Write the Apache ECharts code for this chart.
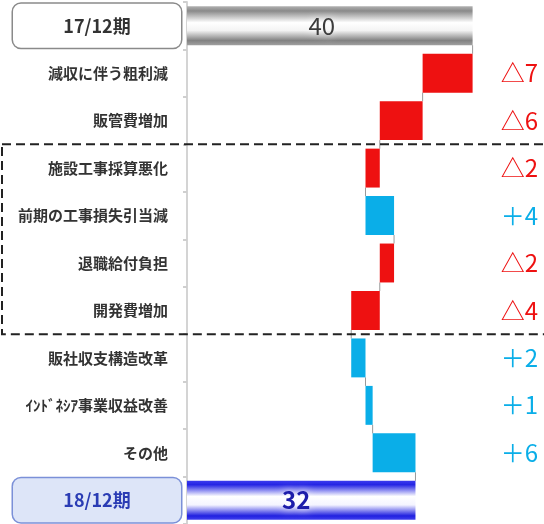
<!DOCTYPE html>
<html>
<head>
<meta charset="utf-8">
<script src="https://cdn.jsdelivr.net/npm/echarts@6/dist/echarts.min.js"></script>
<style>
  html, body { margin: 0; padding: 0; background: #fff; }
  #main { width: 544px; height: 524px; }
</style>
</head>
<body>
<div id="main"></div>
<script>
// 営業利益の増減要因（17/12期 → 18/12期）
const categories = [
  '17/12期',
  '減収に伴う粗利減',
  '販管費増加',
  '施設工事採算悪化',
  '前期の工事損失引当減',
  '退職給付負担',
  '開発費増加',
  '販社収支構造改革',
  'ｲﾝﾄﾞﾈｼｱ事業収益改善',
  'その他',
  '18/12期'
];
const openingTotal = 40;
const changes = [-7, -6, -2, 4, -2, -4, 2, 1, 6];
const closingTotal = 32;
// rows grouped inside the dashed frame
const framedFrom = 3, framedTo = 6;

const FONT = '"Noto Sans CJK JP", "Noto Sans", sans-serif';
const RED = '#ee1111';
const BLUE = '#0aaee8';
const BAR_RATIO = 0.82;

// waterfall geometry built from the values
const bases = [0];
const lengths = [openingTotal];
const levels = [openingTotal]; // running total after each row
let running = openingTotal;
changes.forEach(d => {
  const next = running + d;
  bases.push(Math.min(running, next));
  lengths.push(Math.abs(d));
  running = next;
  levels.push(running);
});
bases.push(0);
lengths.push(closingTotal);
levels.push(closingTotal);
const last = categories.length - 1;

const grayTube = {
  type: 'linear', x: 0, y: 0, x2: 0, y2: 1,
  colorStops: [
    { offset: 0, color: '#b0b0b0' },
    { offset: 0.12, color: '#8a8a8a' },
    { offset: 0.42, color: '#ffffff' },
    { offset: 0.62, color: '#f4f4f4' },
    { offset: 0.88, color: '#828282' },
    { offset: 1, color: '#a0a0a0' }
  ]
};
const blueTube = {
  type: 'linear', x: 0, y: 0, x2: 0, y2: 1,
  colorStops: [
    { offset: 0, color: '#3a3aee' },
    { offset: 0.1, color: '#2424e4' },
    { offset: 0.4, color: '#ffffff' },
    { offset: 0.62, color: '#f4f4ff' },
    { offset: 0.9, color: '#2020e0' },
    { offset: 1, color: '#4040ee' }
  ]
};

const bodyData = lengths.map((len, i) => {
  if (i === 0) {
    return {
      value: len,
      itemStyle: { color: grayTube },
      label: {
        show: true, position: 'inside', offset: [-8, 0],
        formatter: String(openingTotal),
        fontFamily: FONT, fontSize: 24, color: '#3c3c3c',
        textShadowColor: '#ffffff', textShadowBlur: 8
      }
    };
  }
  if (i === last) {
    return {
      value: len,
      itemStyle: { color: blueTube },
      label: {
        show: true, position: 'inside', offset: [-5, 0],
        formatter: String(closingTotal),
        fontFamily: FONT, fontSize: 24, fontWeight: 'bold', color: '#1c1caa',
        textShadowColor: '#ffffff', textShadowBlur: 8
      }
    };
  }
  return { value: len, itemStyle: { color: changes[i - 1] < 0 ? RED : BLUE } };
});

function changeText(i) {
  if (i === 0 || i === last) return '';
  const d = changes[i - 1];
  return d < 0 ? '{neg|△' + Math.abs(d) + '}' : '{pos|＋' + d + '}';
}

const connectorData = [];
for (let i = 0; i < last; i++) connectorData.push([levels[i], i]);

const chart = echarts.init(document.getElementById('main'), null, { renderer: 'canvas' });
chart.setOption({
  animation: false,
  grid: { left: 187, right: 0, top: 2, height: 522.5 },
  xAxis: {
    type: 'value', min: 0, max: 50,
    show: false
  },
  yAxis: [
    {
      type: 'category', data: categories, inverse: true,
      axisLine: { show: true, lineStyle: { color: '#d4d4d4', width: 2 } },
      axisTick: { show: true, length: 4, lineStyle: { color: '#cfcfcf', width: 2 } },
      axisLabel: {
        margin: 6,
        formatter: (v, i) => {
          if (i === 0) return '{first|' + v + '}';
          if (i === last) return '{final|' + v + '}';
          return '{item|' + v + '}';
        },
        rich: {
          item: {
            fontFamily: FONT, fontSize: 15, fontWeight: 'bold', color: '#333',
            padding: [0, 13, 0, 0]
          },
          first: {
            fontFamily: FONT, fontSize: 18, fontWeight: 'bold', color: '#333',
            width: 168, height: 44, align: 'center',
            backgroundColor: '#ffffff', borderColor: '#8a8a8a', borderWidth: 1.5,
            borderRadius: 8
          },
          final: {
            fontFamily: FONT, fontSize: 18, fontWeight: 'bold', color: '#2a3cb4',
            width: 168, height: 44, align: 'center',
            backgroundColor: '#dde5f8', borderColor: '#7b90d8', borderWidth: 1.5,
            borderRadius: 8
          }
        }
      }
    },
    {
      type: 'category', data: categories, inverse: true, position: 'right',
      axisLine: { show: false }, axisTick: { show: false },
      axisLabel: {
        inside: true, margin: 6,
        formatter: (v, i) => changeText(i),
        rich: {
          neg: { fontFamily: FONT, fontSize: 24, color: RED },
          pos: { fontFamily: FONT, fontSize: 24, color: BLUE }
        }
      }
    }
  ],
  series: [
    {
      name: 'base', type: 'bar', stack: 'wf', silent: true,
      barCategoryGap: '18%',
      itemStyle: { color: 'rgba(0,0,0,0)' },
      data: bases
    },
    {
      name: 'amount', type: 'bar', stack: 'wf',
      barCategoryGap: '18%',
      data: bodyData
    },
    {
      name: 'connector', type: 'custom', silent: true,
      data: connectorData,
      renderItem: (params, api) => {
        const x = api.value(0);
        const i = api.value(1);
        const a = api.coord([x, i]);
        const b = api.coord([x, i + 1]);
        const half = api.size([0, 1])[1] * BAR_RATIO / 2;
        return {
          type: 'line',
          shape: { x1: a[0], y1: a[1] + half, x2: b[0], y2: b[1] - half },
          style: { stroke: '#9a9a9a', lineWidth: 1 }
        };
      },
      z: 1
    }
  ]
});

// dashed frame around the grouped rows
const yTop = chart.convertToPixel({ yAxisIndex: 0 }, categories[framedFrom]);
const yBot = chart.convertToPixel({ yAxisIndex: 0 }, categories[framedTo]);
const pitch = chart.convertToPixel({ yAxisIndex: 0 }, categories[1]) -
              chart.convertToPixel({ yAxisIndex: 0 }, categories[0]);
chart.setOption({
  graphic: [{
    type: 'rect', silent: true, z: 100,
    shape: { x: 2, y: yTop - pitch / 2, width: 600, height: (yBot - yTop) + pitch },
    style: { fill: null, stroke: '#222222', lineWidth: 2, lineDash: [9, 5] }
  }]
});
</script>
</body>
</html>
